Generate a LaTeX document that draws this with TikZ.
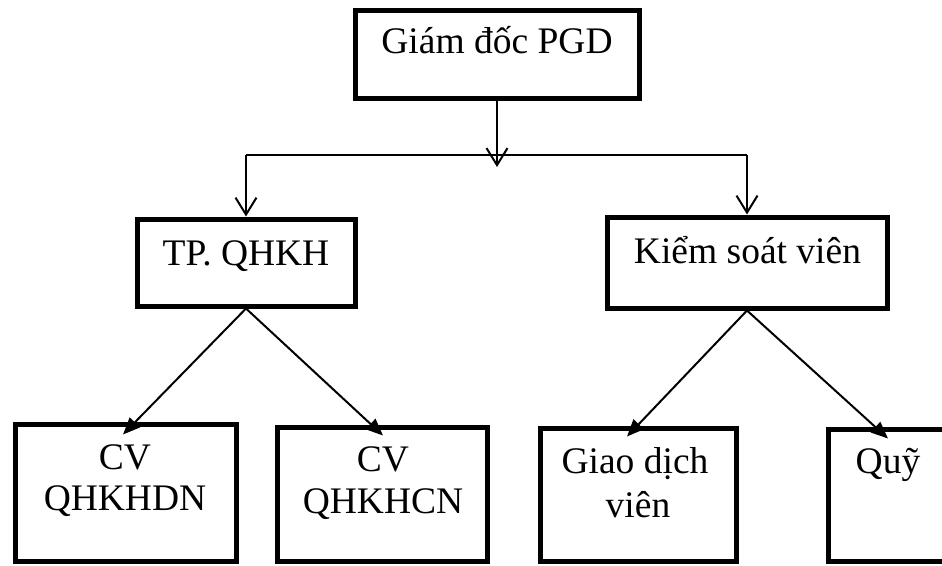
\documentclass[tikz,border=0pt]{standalone}
\usepackage{fontspec}
\setmainfont{Liberation Serif}
\usetikzlibrary{arrows.meta}
\begin{document}
\begin{tikzpicture}[x=1pt,y=-1pt,
  box/.style={draw, line width=5pt, inner sep=0pt},
  lbl/.style={anchor=base, inner sep=0pt, font=\fontsize{37.5}{44}\selectfont},
  conn/.style={line width=2pt},
  openarrow/.style={conn, -{Straight Barb[length=17pt,width=21pt,line width=2pt]}},
  solidarrow/.style={conn, -{Triangle[length=17pt,width=14pt]}}]
\useasboundingbox (0,0) rectangle (942,565);
\fill[white] (0,0) rectangle (942,565);
\clip (0,0) rectangle (942,565);
% boxes
\node[box, minimum width=284, minimum height=88] (top) at (497,54) {};
\node[box, minimum width=218, minimum height=87] (tp) at (246,262.5) {};
\node[box, minimum width=280, minimum height=91] (ksv) at (747,262.5) {};
\node[box, minimum width=221, minimum height=137] (b1) at (125.5,492.5) {};
\node[box, minimum width=210, minimum height=134] (b2) at (382,494) {};
\node[box, minimum width=196, minimum height=133] (b3) at (638,494.5) {};
\node[box, minimum width=134, minimum height=132] (b4) at (895,495) {};
% labels
\node[lbl] (ttop) at (497,53) {Giám đốc PGD};
\node[lbl] (ttp) at (246,265) {TP. QHKH};
\node[lbl] (tksv) at (747.5,263) {Kiểm soát viên};
\node[lbl] (tb1a) at (125,469) {CV};
\node[lbl] (tb1b) at (125,510) {QHKHDN};
\node[lbl] (tb2a) at (383,471) {CV};
\node[lbl] (tb2b) at (383,513) {QHKHCN};
\node[lbl] (tb3a) at (635,473) {Giao dịch};
\node[lbl] (tb3b) at (638,517) {viên};
\node[lbl] (tb4) at (888,473) {Quỹ};
% connectors
\coordinate (drop) at (497,167);
\coordinate (bar) at (0,155);
\draw[openarrow] (top.south) -- (drop);
\draw[conn] (tp.north |- bar) -- (ksv.north |- bar);
\draw[openarrow] (tp.north |- bar) -- (tp.north);
\draw[openarrow] (ksv.north |- bar) -- (ksv.north);
\draw[solidarrow] (tp.south) -- ([shift={(-2.5,13)}]b1.north);
\draw[solidarrow] (tp.south) -- ([shift={(1,11)}]b2.north);
\draw[solidarrow] (ksv.south) -- ([shift={(-11,11)}]b3.north);
\draw[solidarrow] (ksv.south) -- ([shift={(-7,12)}]b4.north);
\end{tikzpicture}
\end{document}
